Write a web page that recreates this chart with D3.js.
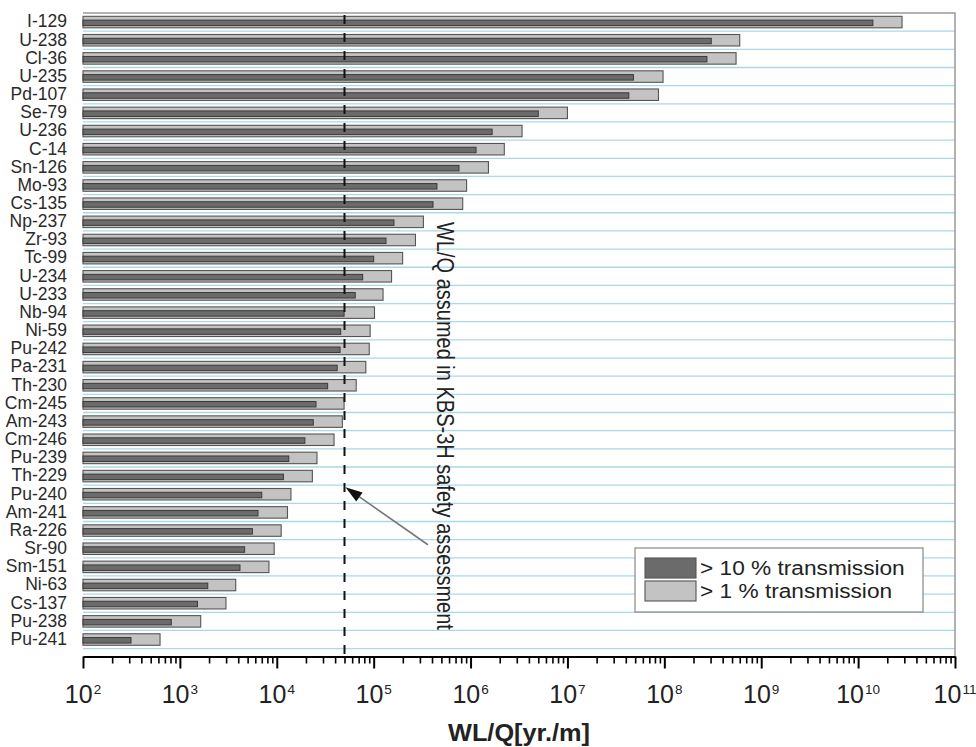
<!DOCTYPE html>
<html>
<head>
<meta charset="utf-8">
<script src="https://cdn.jsdelivr.net/npm/d3@7"></script>
<style>
  html, body { margin: 0; padding: 0; background: #fff; }
  svg { display: block; }
  text { font-family: "Liberation Sans", Arial, Helvetica, sans-serif; }
</style>
</head>
<body>
<svg id="chart" width="976" height="747"></svg>
<script>
// ---- data ----
const categories = ["I-129","U-238","Cl-36","U-235","Pd-107","Se-79","U-236","C-14","Sn-126","Mo-93",
  "Cs-135","Np-237","Zr-93","Tc-99","U-234","U-233","Nb-94","Ni-59","Pu-242","Pa-231","Th-230",
  "Cm-245","Am-243","Cm-246","Pu-239","Th-229","Pu-240","Am-241","Ra-226","Sr-90","Sm-151",
  "Ni-63","Cs-137","Pu-238","Pu-241"];
// WL/Q giving > 1 % transmission (light bars)
const trans1 = [2.84e10,6.0e8,5.5e8,9.7e7,8.7e7,1.0e7,3.4e6,2.23e6,1.53e6,9.1e5,
  8.3e5,3.26e5,2.7e5,1.99e5,1.53e5,1.25e5,1.02e5,9.2e4,9.0e4,8.3e4,6.6e4,
  4.95e4,4.75e4,3.9e4,2.6e4,2.33e4,1.4e4,1.29e4,1.11e4,9.4e3,8.3e3,
  3.77e3,2.99e3,1.64e3,624];
// WL/Q giving > 10 % transmission (dark bars)
const trans10 = [1.42e10,3.05e8,2.75e8,4.8e7,4.3e7,5.0e6,1.67e6,1.14e6,7.6e5,4.5e5,
  4.1e5,1.62e5,1.34e5,1.0e5,7.7e4,6.45e4,4.95e4,4.57e4,4.5e4,4.2e4,3.35e4,
  2.54e4,2.38e4,1.95e4,1.33e4,1.17e4,7.0e3,6.4e3,5.6e3,4.66e3,4.17e3,
  1.94e3,1.52e3,815,313];
const tickExponents = [2,3,4,5,6,7,8,9,10,11];
const assumedWLQ = 5e4;
const seriesNames = ["> 10 % transmission", "> 1 % transmission"];
const annotationText = "WL/Q assumed in KBS-3H safety assessment";
const axisTitle = "WL/Q[yr./m]";

// ---- layout ----
const svg = d3.select("#chart");
const L = 83, R = 955, T = 13, B = 648.6, AX = 656.5;
const x = d3.scaleLog().domain([1e2, 1e11]).range([L, R]);
const y = d3.scaleBand().domain(categories).range([T, B]).paddingInner(0).paddingOuter(0);
const bw = y.bandwidth();
const lightH = 11.5, darkH = 5.5;
const darkCol = "#6b6b6b", lightCol = "#c3c3c3";

svg.append("rect").attr("width", 976).attr("height", 747).attr("fill", "#fff");

// grid lines (row boundaries)
svg.append("g").selectAll("line").data(categories).join("line")
  .attr("x1", L).attr("x2", R)
  .attr("y1", d => y(d) + bw).attr("y2", d => y(d) + bw)
  .attr("stroke", "#a8d9e8").attr("stroke-width", 1.3);

// frame (top, right)
svg.append("path")
  .attr("d", `M${L},${T}H${R}V${AX}`)
  .attr("fill", "none").attr("stroke", "#9a9a9a").attr("stroke-width", 1.5);

// light bars (> 1 %)
svg.append("g").selectAll("rect").data(categories).join("rect")
  .attr("x", x(1e2))
  .attr("y", d => y(d) + (bw - lightH) / 2)
  .attr("width", (d, i) => x(trans1[i]) - x(1e2))
  .attr("height", lightH)
  .attr("fill", lightCol).attr("stroke", "#555").attr("stroke-width", 1.1);

// dark bars (> 10 %)
svg.append("g").selectAll("rect").data(categories).join("rect")
  .attr("x", x(1e2))
  .attr("y", d => y(d) + (bw - darkH) / 2 + 0.8)
  .attr("width", (d, i) => x(trans10[i]) - x(1e2))
  .attr("height", darkH)
  .attr("fill", darkCol).attr("stroke", "#3a3a3a").attr("stroke-width", 1);

// category labels
svg.append("g").selectAll("text").data(categories).join("text")
  .attr("x", 67)
  .attr("y", d => y(d) + bw / 2 - 1)
  .attr("dy", "0.36em")
  .attr("text-anchor", "end")
  .attr("font-size", 17.5)
  .attr("fill", "#2a2a2a")
  .text(d => d);

// dashed threshold line
svg.append("line")
  .attr("x1", x(assumedWLQ)).attr("x2", x(assumedWLQ))
  .attr("y1", T).attr("y2", AX)
  .attr("stroke", "#111").attr("stroke-width", 2)
  .attr("stroke-dasharray", "9,9").attr("stroke-dashoffset", -2);

// x axis
const majors = tickExponents.map(e => Math.pow(10, e));
const minors = [];
for (let e = 2; e < 11; e++) for (let m = 2; m <= 9; m++) minors.push(m * Math.pow(10, e));

const gMinor = svg.append("g").attr("transform", `translate(0,${AX})`)
  .call(d3.axisBottom(x).tickValues(minors).tickSize(7).tickSizeOuter(0).tickFormat(""));
gMinor.select(".domain").remove();
gMinor.selectAll(".tick line").attr("stroke", "#000").attr("stroke-width", 1.6);

const gMajor = svg.append("g").attr("transform", `translate(0,${AX})`)
  .call(d3.axisBottom(x).tickValues(majors).tickSize(12).tickSizeOuter(0).tickFormat(""));
gMajor.select(".domain").attr("stroke", "#000").attr("stroke-width", 2.2);
gMajor.selectAll(".tick line").attr("stroke", "#000").attr("stroke-width", 2);

// tick labels 10^n
const labels = svg.append("g").selectAll("text").data(tickExponents).join("text")
  .attr("x", d => x(Math.pow(10, d)))
  .attr("y", 703)
  .attr("text-anchor", "middle")
  .attr("font-size", 25)
  .attr("fill", "#222");
labels.append("tspan").text("10");
labels.append("tspan").attr("font-size", 13.5).attr("dy", -9.5).attr("dx", 1).text(d => d);

// axis title
svg.append("text")
  .attr("transform", `translate(${(L + R) / 2},741) scale(1.1,1)`)
  .attr("text-anchor", "middle")
  .attr("font-size", 23).attr("font-weight", "bold").attr("fill", "#222")
  .text(axisTitle);

// annotation text (rotated)
svg.append("text")
  .attr("transform", `translate(437,222) scale(1.15,1) rotate(90)`)
  .attr("font-size", 20).attr("fill", "#222")
  .text(annotationText);

// annotation arrow
const tip = [x(assumedWLQ) + 1, y("Pu-240") + 2];
const tail = [x(Math.pow(10, 5.56)), y("Sr-90") + bw / 2 - 4];
const dx = tip[0] - tail[0], dy = tip[1] - tail[1];
const len = Math.hypot(dx, dy), ux = dx / len, uy = dy / len;
const headL = 17, headW = 5.5;
const base = [tip[0] - ux * headL, tip[1] - uy * headL];
svg.append("line")
  .attr("x1", tail[0]).attr("y1", tail[1]).attr("x2", base[0]).attr("y2", base[1])
  .attr("stroke", "#777").attr("stroke-width", 1.6);
svg.append("path")
  .attr("d", `M${tip[0]},${tip[1]}L${base[0] - uy * headW},${base[1] + ux * headW}L${base[0] + uy * headW},${base[1] - ux * headW}Z`)
  .attr("fill", "#111");

// legend
const lg = svg.append("g");
lg.append("rect").attr("x", 635).attr("y", 548).attr("width", 288).attr("height", 64)
  .attr("fill", "#fff").attr("stroke", "#888").attr("stroke-width", 1.2);
const legendCols = [darkCol, lightCol];
seriesNames.forEach((name, i) => {
  const yy = 558 + i * 23;
  lg.append("rect").attr("x", 645).attr("y", yy).attr("width", 51).attr("height", 20)
    .attr("fill", legendCols[i]).attr("stroke", "#555").attr("stroke-width", 1.1);
  lg.append("text")
    .attr("transform", `translate(700,${yy + 17}) scale(1.08,1)`)
    .attr("font-size", 21).attr("fill", "#222")
    .text(name);
});
</script>
</body>
</html>
